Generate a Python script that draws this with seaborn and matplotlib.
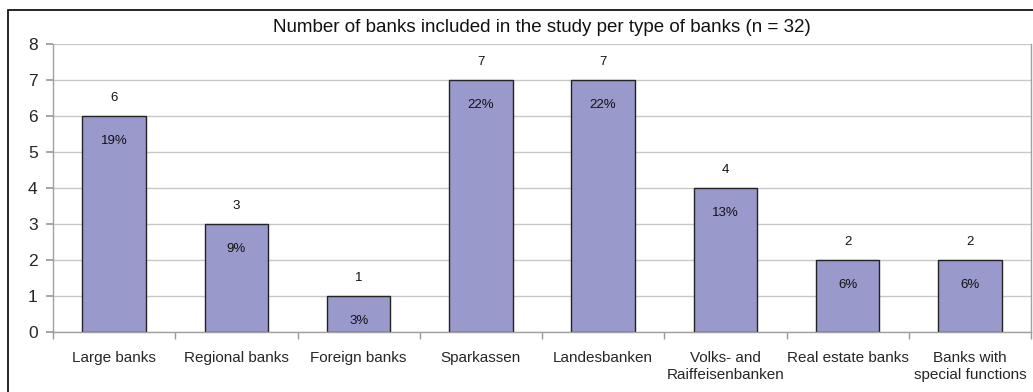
import matplotlib
matplotlib.use("Agg")
import matplotlib.pyplot as plt
import seaborn as sns
import pandas as pd
from matplotlib.patches import Rectangle

categories = ["Large banks", "Regional banks", "Foreign banks", "Sparkassen",
              "Landesbanken", "Volks- and\nRaiffeisenbanken", "Real estate banks",
              "Banks with\nspecial functions"]
counts = [6, 3, 1, 7, 7, 4, 2, 2]
total = 32
title = "Number of banks included in the study per type of banks (n = 32)"
y_ticks = [0, 1, 2, 3, 4, 5, 6, 7, 8]

sns.set_theme(style="white")
plt.rcParams["font.family"] = ["Liberation Sans", "DejaVu Sans"]

df = pd.DataFrame({"type": categories, "count": counts})

W, H = 1033, 392
fig = plt.figure(figsize=(W / 100, H / 100), dpi=100)
ax = fig.add_axes([53 / W, 1 - 332 / H, (1031 - 53) / W, (332 - 44) / H])

sns.barplot(data=df, x="type", y="count", ax=ax, color="#9999CC",
            saturation=1, width=0.52, edgecolor="#222222", linewidth=1.0)

ax.set_ylim(0, 8)
ax.set_xlim(-0.5, len(categories) - 0.5)
ax.set_yticks(y_ticks)
ax.set_yticklabels([str(t) for t in y_ticks], fontsize=12.5)
ax.yaxis.grid(True, color="#C8C8C8", linewidth=1.0)
ax.set_axisbelow(True)
ax.set_xlabel("")
ax.set_ylabel("")

# category labels centred under bars, tick marks at category boundaries
ax.set_xticks(range(len(categories)))
ax.set_xticklabels(categories, fontsize=11)
ax.tick_params(axis="x", length=0, pad=14)
ax.set_xticks([i - 0.5 for i in range(len(categories) + 1)], minor=True)
ax.tick_params(axis="x", which="minor", length=5, color="#999999", direction="out", bottom=True)
ax.tick_params(axis="y", length=5, color="#999999", direction="out", left=True, pad=6)

for side in ["left", "bottom", "right"]:
    ax.spines[side].set_color("#A0A0A0")
    ax.spines[side].set_linewidth(1.0)
ax.spines["top"].set_visible(False)

# value above, share of total (rounded half up) inside each bar
for i, v in enumerate(counts):
    pct = int(v / total * 100 + 0.5)
    ax.text(i, v + 0.5, str(v), ha="center", va="center", fontsize=9.5, color="#111111")
    ax.text(i, v - 0.7, f"{pct}%", ha="center", va="center",
            fontsize=9.5, color="#111111")

fig.text(0.5 * (53 + 1031) / W, 1 - 28 / H, title, ha="center", va="center",
         fontsize=13.5, color="#111111")

# outer chart frame
fig.patches.append(Rectangle((8 / W, -0.2), 1.2, 1 - 10 / H + 0.2, transform=fig.transFigure,
                             fill=False, edgecolor="black", linewidth=1.2, zorder=0))

fig.savefig("out.png", dpi=100)
